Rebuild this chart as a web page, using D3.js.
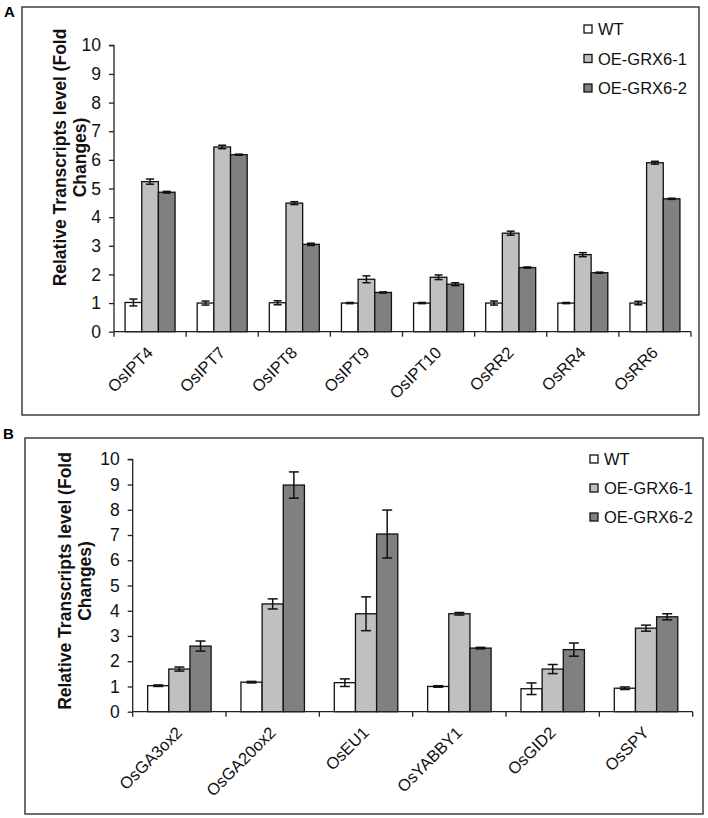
<!DOCTYPE html>
<html><head><meta charset="utf-8">
<script src="https://cdn.jsdelivr.net/npm/d3@7"></script>
<style>body{margin:0;background:#fff}svg{display:block}text{font-family:"Liberation Sans",Arial,sans-serif}</style>
</head><body>
<script>
const seriesNames = ["WT", "OE-GRX6-1", "OE-GRX6-2"];
const seriesColors = ["#ffffff", "#c0c0c0", "#808080"];
const yTicks = [0,1,2,3,4,5,6,7,8,9,10];

const catsA = ["OsIPT4","OsIPT7","OsIPT8","OsIPT9","OsIPT10","OsRR2","OsRR4","OsRR6"];
const wtA   = [1.02, 1.00, 1.01, 1.00, 1.00, 1.00, 1.00, 1.00];
const g1A   = [5.24, 6.45, 4.49, 1.83, 1.90, 3.44, 2.69, 5.90];
const g2A   = [4.87, 6.18, 3.05, 1.37, 1.66, 2.24, 2.06, 4.64];
const wtErrA = [0.12, 0.07, 0.07, 0.02, 0.02, 0.07, 0.02, 0.06];
const g1ErrA = [0.09, 0.06, 0.05, 0.12, 0.08, 0.07, 0.07, 0.05];
const g2ErrA = [0.03, 0.02, 0.04, 0.02, 0.05, 0.02, 0.02, 0.02];

const catsB = ["OsGA3ox2","OsGA20ox2","OsEU1","OsYABBY1","OsGID2","OsSPY"];
const wtB   = [1.03, 1.17, 1.15, 1.00, 0.91, 0.93];
const g1B   = [1.69, 4.27, 3.88, 3.88, 1.69, 3.31];
const g2B   = [2.60, 8.98, 7.04, 2.52, 2.46, 3.76];
const wtErrB = [0.03, 0.03, 0.15, 0.03, 0.23, 0.05];
const g1ErrB = [0.08, 0.20, 0.67, 0.05, 0.18, 0.12];
const g2ErrB = [0.20, 0.52, 0.95, 0.03, 0.26, 0.12];

const svg = d3.select("body").append("svg").attr("width",708).attr("height",818);

function panel(cfg){
  const g = svg.append("g");
  g.append("rect").attr("x",cfg.frame[0]).attr("y",cfg.frame[1]).attr("width",cfg.frame[2]).attr("height",cfg.frame[3])
    .attr("fill","none").attr("stroke","#222").attr("stroke-width",1.3);
  g.append("text").attr("x",cfg.letter[0]).attr("y",cfg.letter[1]).attr("font-weight","bold").attr("font-size",15).text(cfg.letterText);

  const x = d3.scaleBand().domain(cfg.cats).range([cfg.x0,cfg.x1]).paddingInner(cfg.pad).paddingOuter(cfg.pad/2);
  const y = d3.scaleLinear().domain([0,10]).range([cfg.y0,cfg.y10]);
  const xs = d3.scaleBand().domain(seriesNames).range([0,x.bandwidth()]);

  // y axis
  const ya = g.append("g").attr("transform",`translate(${cfg.x0},0)`)
    .call(d3.axisLeft(y).tickValues(yTicks).tickSize(5).tickPadding(8).tickFormat(d3.format("d")));
  ya.select(".domain").attr("stroke","#222").attr("stroke-width",1.3).attr("d",`M-5,${cfg.y10}H0V${cfg.y0}`);
  ya.selectAll(".tick line").attr("stroke","#222").attr("stroke-width",1.3);
  ya.selectAll(".tick text").attr("font-size",cfg.fs).attr("fill","#111").style("font-family","'Liberation Sans',Arial,sans-serif");

  // bars
  const vals = [cfg.wt, cfg.g1, cfg.g2];
  const errs = [cfg.wtErr, cfg.g1Err, cfg.g2Err];
  cfg.cats.forEach((c,i)=>{
    seriesNames.forEach((s,j)=>{
      const bx = x(c)+xs(s), v = vals[j][i], e = errs[j][i], bw = xs.bandwidth();
      g.append("rect").attr("x",bx).attr("y",y(v)).attr("width",bw).attr("height",y(0)-y(v))
        .attr("fill",seriesColors[j]).attr("stroke","#111").attr("stroke-width",1.3);
      const cx = bx+bw/2, cw = cfg.cap/2;
      const eg = g.append("g").attr("stroke","#111").attr("stroke-width",1.5);
      eg.append("line").attr("x1",cx).attr("x2",cx).attr("y1",y(v-e)).attr("y2",y(v+e));
      eg.append("line").attr("x1",cx-cw).attr("x2",cx+cw).attr("y1",y(v-e)).attr("y2",y(v-e));
      eg.append("line").attr("x1",cx-cw).attr("x2",cx+cw).attr("y1",y(v+e)).attr("y2",y(v+e));
    });
  });

  // x axis
  g.append("line").attr("x1",cfg.x0).attr("x2",cfg.x1).attr("y1",cfg.y0).attr("y2",cfg.y0).attr("stroke","#222").attr("stroke-width",1.3);
  const off = (x.step()-x.bandwidth())/2;
  const bounds = cfg.cats.map(c=>x(c)-off).concat([x(cfg.cats[cfg.cats.length-1])+x.bandwidth()+off]);
  bounds.forEach(b=>g.append("line").attr("x1",b).attr("x2",b).attr("y1",cfg.y0).attr("y2",cfg.y0+5).attr("stroke","#222").attr("stroke-width",1.3));
  cfg.cats.forEach(c=>{
    const cx = x(c)+x.bandwidth()/2 + cfg.lblDx, cy = cfg.y0+cfg.lblDy;
    g.append("text").attr("transform",`translate(${cx},${cy}) rotate(-45)`).attr("text-anchor","end")
      .attr("font-size",cfg.xfs).attr("fill","#111").text(c);
  });

  // y title
  const t = g.append("text").attr("transform",`translate(${cfg.title[0]},${cfg.title[1]}) rotate(-90)`)
    .attr("text-anchor","middle").attr("font-weight","bold").attr("font-size",cfg.tfs).attr("fill","#111");
  t.append("tspan").attr("x",0).attr("dy",0).text("Relative Transcripts level (Fold");
  t.append("tspan").attr("x",0).attr("dy",20).text("Changes)");

  // legend
  seriesNames.forEach((s,j)=>{
    const ly = cfg.leg[1]+j*cfg.legGap;
    g.append("rect").attr("x",cfg.leg[0]).attr("y",ly-10).attr("width",8).attr("height",8)
      .attr("fill",seriesColors[j]).attr("stroke","#111").attr("stroke-width",1.3);
    g.append("text").attr("x",cfg.leg[0]+14).attr("y",ly).attr("font-size",cfg.lfs).attr("fill","#111").text(s);
  });
}

panel({cats:catsA, wt:wtA, g1:g1A, g2:g2A, wtErr:wtErrA, g1Err:g1ErrA, g2Err:g2ErrA,
  frame:[22,7,677,408], letter:[4,17], letterText:"A",
  x0:114, x1:691, y0:331.7, y10:45.3, pad:0.307, cap:8, fs:17.5, xfs:16.5, lfs:16.5, tfs:17.5,
  lblDx:4, lblDy:22, title:[65.5,157.5], leg:[584,35], legGap:29.5});

panel({cats:catsB, wt:wtB, g1:g1B, g2:g2B, wtErr:wtErrB, g1Err:g1ErrB, g2Err:g2ErrB,
  frame:[25,438,678,376], letter:[3,439], letterText:"B",
  x0:132.7, x1:692.7, y0:711.7, y10:459.3, pad:0.32, cap:10, fs:17.5, xfs:16.5, lfs:16.5, tfs:17.5,
  lblDx:4, lblDy:22, title:[70.5,581], leg:[590,465], legGap:29});
</script>
</body></html>
